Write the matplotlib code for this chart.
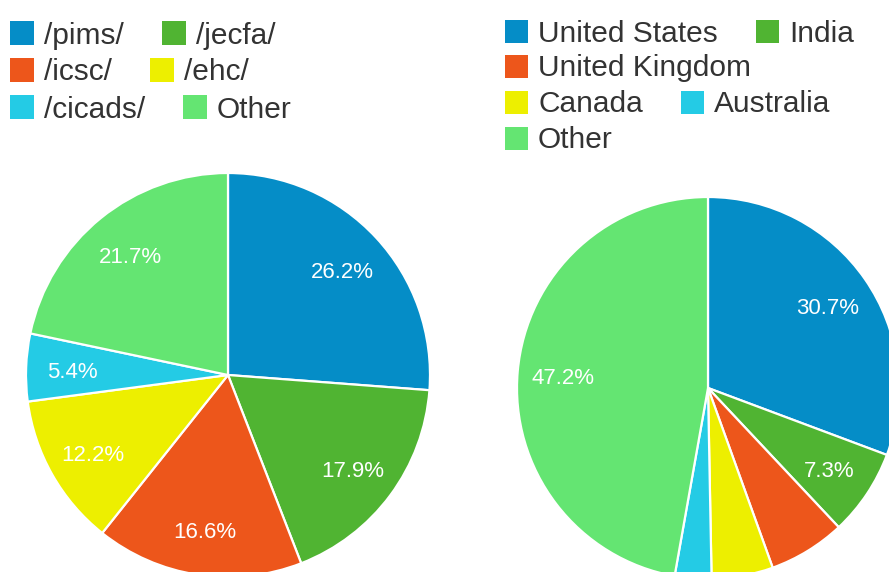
import matplotlib.pyplot as plt
from matplotlib.patches import Rectangle

plt.rcParams['font.family'] = ['Liberation Sans', 'DejaVu Sans']

# data
page_labels = ['/pims/', '/jecfa/', '/icsc/', '/ehc/', '/cicads/', 'Other']
page_share = [26.2, 17.9, 16.6, 12.2, 5.4, 21.7]
country_labels = ['United States', 'India', 'United Kingdom', 'Canada', 'Australia', 'Other']
country_share = [30.7, 7.3, 6.5, 5.2, 3.1, 47.2]
colors = ['#058dc7', '#50b432', '#ed561b', '#edef00', '#24cbe5', '#64e572']

# legend rows (flow layout, indexes into the label lists)
page_rows = [[0, 1], [2, 3], [4, 5]]
country_rows = [[0, 1], [2], [3, 4], [5]]

W, H = 889, 572
fig = plt.figure(figsize=(W / 100, H / 100), dpi=100)
fig.patch.set_facecolor('white')


def px_axes(cx, cy, r):
    # axes in pixel coords (top-left origin), square around pie centre
    return fig.add_axes([(cx - r) / W, (H - cy - r) / H, 2 * r / W, 2 * r / H])


def draw_pie(ax, values, min_label, pctdist, r_px):
    wedges, texts, autotexts = ax.pie(
        values, colors=colors, startangle=90, counterclock=False,
        autopct=lambda p: f'{p:.1f}%' if p >= min_label else '',
        pctdistance=pctdist,
        wedgeprops=dict(edgecolor='white', linewidth=1.6),
        textprops=dict(color='white', fontsize=16))
    ax.set_xlim(-1, 1)
    ax.set_ylim(-1, 1)
    ax.set_aspect('equal')
    ax.axis('off')
    for w in wedges:
        w.set_clip_on(False)
    # labels sit a few pixels lower in the original
    for t in autotexts:
        x, y = t.get_position()
        t.set_position((x, y - 3.5 / r_px))


ax1 = px_axes(228, 375, 202)
draw_pie(ax1, page_share, 5, 0.77, 202)
ax2 = px_axes(708, 388, 191)
draw_pie(ax2, country_share, 7, 0.76, 191)

# overlay for legends, pixel coordinates
ov = fig.add_axes([0, 0, 1, 1], zorder=5)
ov.set_xlim(0, W)
ov.set_ylim(H, 0)
ov.axis('off')
renderer = fig.canvas.get_renderer()


def flow_legend(labels, rows, x0, row_y, box=24, gap=38):
    for row, yc in zip(rows, row_y):
        x = x0
        for i in row:
            ov.add_patch(Rectangle((x, yc - box / 2), box, box, color=colors[i], lw=0))
            t = ov.text(x + box + 10, yc + 10.5, labels[i], fontsize=21.5,
                        color='#333333', va='baseline', ha='left')
            wpx = t.get_window_extent(renderer).width
            x = x + box + 10 + wpx + gap


flow_legend(page_labels, page_rows, 10, [33, 70, 107])
flow_legend(country_labels, country_rows, 505, [31, 66, 102, 138], box=23)

fig.savefig('out.png', dpi=100)
